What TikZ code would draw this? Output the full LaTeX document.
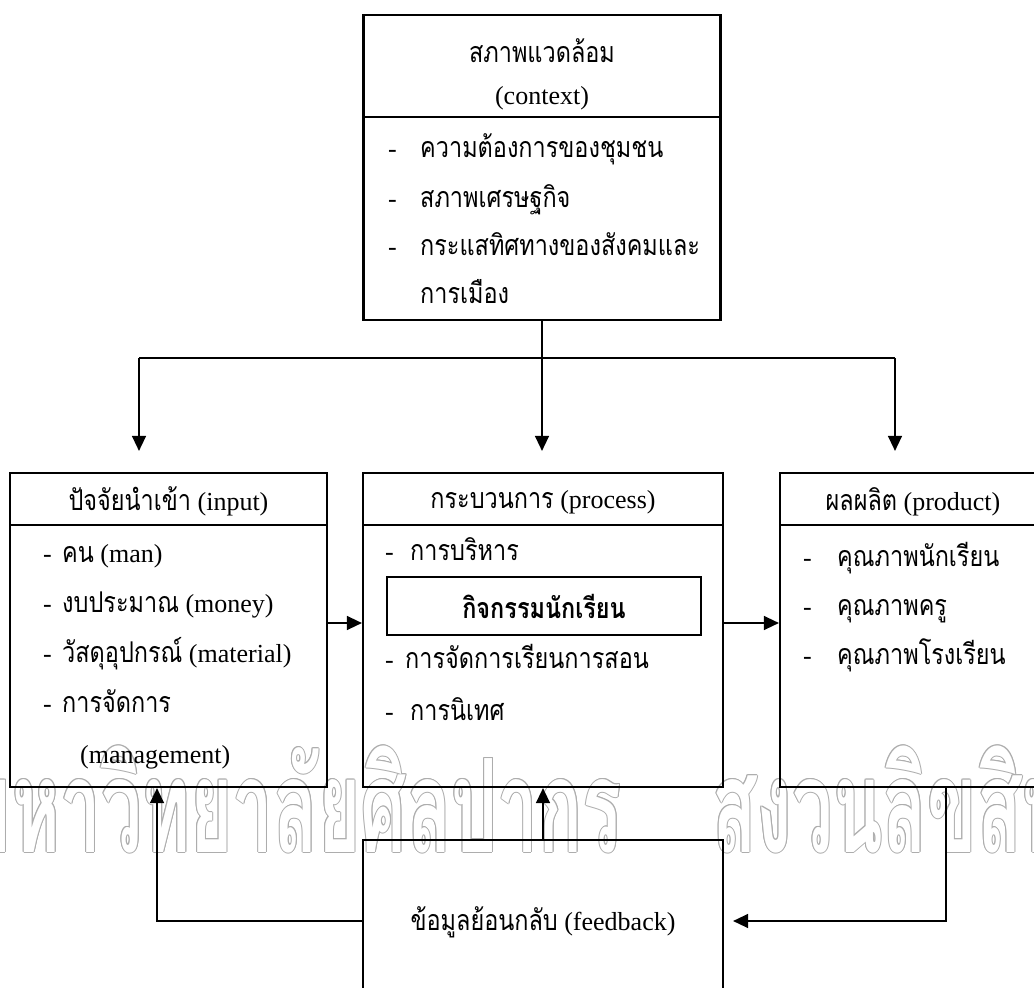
\documentclass[tikz,border=0pt]{standalone}
\usepackage{fontspec}
\setmainfont{Liberation Serif}
\newfontfamily\thaifont[Script=Thai,Scale=1.1,FakeStretch=0.82]{Loma}
\newfontfamily\wmfont[Script=Thai,FakeStretch=0.56]{Loma}
\usetikzlibrary{arrows.meta}
\tikzset{>={Triangle[length=15pt,width=14pt]}}
\newcommand{\tha}[1]{{\thaifont #1}}
\newcommand{\bul}[1]{\makebox[#1][l]{-}}

\begin{document}
\begin{tikzpicture}[x=1pt, y=-1pt,
    box/.style={draw, line width=2.2pt, inner sep=0pt},
    lbl/.style={inner sep=0pt, font=\fontsize{26}{30}\selectfont},
    conn/.style={line width=1.4pt},
    wm/.style={inner sep=0pt, font=\wmfont\bfseries\fontsize{130}{140}\selectfont}]
    \clip (0,0) rectangle (1034,988);
    \fill[white] (0,0) rectangle (1034,988);

    % watermark
    \foreach \a in {0,45,...,315} {
      \node[wm, black!32, anchor=base east] (wma\a) at ([shift={(\a:1pt)}]622,852) {มหาวิทยาลัยศิลปากร};
      \node[wm, black!32, anchor=base west] (wmb\a) at ([shift={(\a:1pt)}]712,852) {สงวนลิขสิทธิ์};
    }
    \node[wm, white, anchor=base east] (wma) at (622,852) {มหาวิทยาลัยศิลปากร};
    \node[wm, white, anchor=base west] (wmb) at (712,852) {สงวนลิขสิทธิ์};

    % context
    \node[box, minimum width=357pt, minimum height=102pt] (ctxhead) at (542,66) {};
    \node[box, minimum width=357pt, minimum height=203pt] (ctxbody) at (542,218.5) {};
    \node[lbl, anchor=base] (ctxt1) at (542,62) {\tha{สภาพแวดล้อม}};
    \node[lbl, anchor=base] (ctxt2) at (542,104) {(context)};
    \node[lbl, anchor=base west] (ctxi1) at (388,157) {\bul{32pt}\tha{ความต้องการของชุมชน}};
    \node[lbl, anchor=base west] (ctxi2) at (388,207) {\bul{32pt}\tha{สภาพเศรษฐกิจ}};
    \node[lbl, anchor=base west] (ctxi3) at (388,255) {\bul{32pt}\tha{กระแสทิศทางของสังคมและ}};
    \node[lbl, anchor=base west] (ctxi4) at (420,303) {\tha{การเมือง}};

    % input
    \node[box, minimum width=317pt, minimum height=52pt] (inphead) at (168.5,499) {};
    \node[box, minimum width=317pt, minimum height=262pt] (inpbody) at (168.5,656) {};
    \node[lbl, anchor=base] (inpt) at (168.5,510) {\tha{ปัจจัยนำเข้า} (input)};
    \node[lbl, anchor=base west] (inpi1) at (43,562) {\bul{19pt}\tha{คน} (man)};
    \node[lbl, anchor=base west] (inpi2) at (43,612) {\bul{19pt}\tha{งบประมาณ} (money)};
    \node[lbl, anchor=base west] (inpi3) at (43,662) {\bul{19pt}\tha{วัสดุอุปกรณ์} (material)};
    \node[lbl, anchor=base west] (inpi4) at (43,712) {\bul{19pt}\tha{การจัดการ}};
    \node[lbl, anchor=base west] (inpi5) at (80,763) {(management)};

    % process
    \node[box, minimum width=360pt, minimum height=52pt] (prochead) at (543,499) {};
    \node[box, minimum width=360pt, minimum height=262pt] (procbody) at (543,656) {};
    \node[lbl, anchor=base] (proct) at (543,508) {\tha{กระบวนการ} (process)};
    \node[lbl, anchor=base west] (proci1) at (385,560) {\bul{25pt}\tha{การบริหาร}};
    \node[box, lbl, minimum width=314pt, minimum height=58pt] (act) at (544,606) {\tha{\bfseries กิจกรรมนักเรียน}};
    \node[lbl, anchor=base west] (proci2) at (385,668) {\bul{20pt}\tha{การจัดการเรียนการสอน}};
    \node[lbl, anchor=base west] (proci3) at (385,720) {\bul{25pt}\tha{การนิเทศ}};

    % product
    \node[box, minimum width=270pt, minimum height=52pt] (prodhead) at (915,499) {};
    \node[box, minimum width=270pt, minimum height=262pt] (prodbody) at (915,656) {};
    \node[lbl, anchor=base] (prodt) at (913,510) {\tha{ผลผลิต} (product)};
    \node[lbl, anchor=base west] (prodi1) at (803,566) {\bul{34pt}\tha{คุณภาพนักเรียน}};
    \node[lbl, anchor=base west] (prodi2) at (803,615) {\bul{34pt}\tha{คุณภาพครู}};
    \node[lbl, anchor=base west] (prodi3) at (803,664) {\bul{34pt}\tha{คุณภาพโรงเรียน}};

    % feedback
    \node[box, minimum width=360pt, minimum height=180pt] (fb) at (543,930) {};
    \node[lbl, anchor=base] (fbt) at (543,930) {\tha{ข้อมูลย้อนกลับ} (feedback)};

    % connectors
    \coordinate (lsplit) at (139,358);
    \coordinate (rsplit) at (895,358);
    \coordinate (mid) at (0,623);
    \coordinate (fbl) at (157,921);
    \coordinate (fbr) at (946,921);
    \draw[conn, ->, shorten >=21pt] (ctxbody.south) -- (ctxbody.south |- prochead.north);
    \draw[conn] (lsplit) -- (rsplit);
    \draw[conn, ->, shorten >=21pt] (lsplit) -- (lsplit |- inphead.north);
    \draw[conn, ->, shorten >=21pt] (rsplit) -- (rsplit |- prodhead.north);
    \draw[conn, ->] (inpbody.east |- mid) -- (procbody.west |- mid);
    \draw[conn, ->] (procbody.east |- mid) -- (prodbody.west |- mid);
    \draw[conn, ->] (fb.north) -- (procbody.south);
    \draw[conn, ->] (fb.west |- fbl) -- (fbl) -- (fbl |- inpbody.south);
    \draw[conn, ->, shorten >=9pt] (fbr |- prodbody.south) -- (fbr) -- (fb.east |- fbr);
\end{tikzpicture}
\end{document}
